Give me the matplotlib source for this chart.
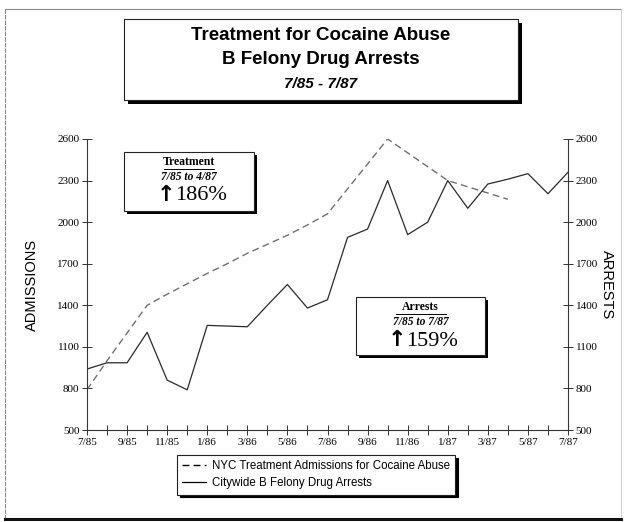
import numpy as np
import matplotlib
matplotlib.use('Agg')
import matplotlib.pyplot as plt
from matplotlib.patches import Rectangle

plt.rcParams.update({
    'font.family': ['Liberation Sans', 'DejaVu Sans'],
    'axes.linewidth': 0.8,
})

# data (monthly, 7/85 .. 7/87)
months = ['7/85', '8/85', '9/85', '10/85', '11/85', '12/85', '1/86', '2/86', '3/86',
          '4/86', '5/86', '6/86', '7/86', '8/86', '9/86', '10/86', '11/86', '12/86',
          '1/87', '2/87', '3/87', '4/87', '5/87', '6/87', '7/87']
admissions = [790, 1000, 1200, 1400, 1480, 1555, 1630, 1700, 1775, 1840, 1905,
              1980, 2060, 2240, 2420, 2600, 2500, 2400, 2300, 2255, 2210, 2165]
arrests = [940, 985, 985, 1205, 860, 790, 1255, 1250, 1245, 1400, 1550, 1380, 1440,
           1890, 1950, 2300, 1910, 2000, 2300, 2100, 2275, 2310, 2350, 2205, 2360]
y_ticks = [500, 800, 1100, 1400, 1700, 2000, 2300, 2600]

W, H = 624, 522
fig = plt.figure(figsize=(W / 100, H / 100), dpi=100)
fig.patch.set_facecolor('white')

ax = fig.add_axes([87 / W, (H - 430) / H, (568 - 87) / W, (430 - 139) / H])
x_adm = np.arange(len(admissions))
x_arr = np.arange(len(arrests))
ax.plot(x_adm, admissions, color='#707070', lw=1.0, dashes=(5, 3),
        label='NYC Treatment Admissions for Cocaine Abuse')
ax.plot(x_arr, arrests, color='#2a2a2a', lw=0.9,
        label='Citywide B Felony Drug Arrests')

ax.set_xlim(0, len(months) - 1)
ax.set_ylim(500, 2600)
ax.set_xticks(x_arr)
ax.set_xticklabels([m if i % 2 == 0 else '' for i, m in enumerate(months)])
ax.set_yticks(y_ticks)
ax.set_yticklabels([str(v) for v in y_ticks])
ax.tick_params(direction='inout', length=7, width=0.7, color='#333333', pad=2,
               labelsize=8)
ax.tick_params(axis='y', right=True, labelright=True)
ax.spines['top'].set_visible(False)
for s in ['left', 'right', 'bottom']:
    ax.spines[s].set_color('#333333')

serif = ['Liberation Serif', 'DejaVu Serif']
for t in ax.xaxis.get_major_ticks() + ax.yaxis.get_major_ticks():
    t.label1.set_family(serif)
    t.label2.set_family(serif)

ax.set_ylabel('ADMISSIONS', fontsize=10.5)
ax.yaxis.set_label_coords(-0.100, 0.5)
ax.text(1.081, 0.5, 'ARRESTS', transform=ax.transAxes, rotation=270,
        fontsize=10.5, ha='center', va='center')

leg = ax.legend(loc='upper left', bbox_to_anchor=(177 / W, 1 - 455 / H),
                bbox_transform=fig.transFigure, borderaxespad=0, fontsize=8.3,
                frameon=True, fancybox=False, handlelength=2.1, handletextpad=0.5,
                labelspacing=0.45, borderpad=0.45,
                shadow={'color': 'black', 'alpha': 1.0})
leg.get_frame().set_edgecolor('#222222')
leg.get_frame().set_linewidth(0.8)
for h in leg.get_lines():
    h.set_color('black')

# overlay in pixel coordinates for frame, title and note boxes
ov = fig.add_axes([0, 0, 1, 1], zorder=5)
ov.set_xlim(0, W)
ov.set_ylim(H, 0)
ov.axis('off')
ov.patch.set_alpha(0)

# outer frame
ov.plot([5, 621], [9, 9], color='#888888', lw=0.8)
ov.plot([5, 5], [9, 519], color='#888888', lw=0.8, dashes=(4, 1))
ov.plot([621, 621], [9, 519], color='#cccccc', lw=0.6)
ov.plot([5, 621], [519, 519], color='#111111', lw=2.2)


def shadow_box(x0, y0, x1, y1, off=3):
    ov.add_patch(Rectangle((x0 + off, y0 + off), x1 - x0, y1 - y0,
                           facecolor='black', edgecolor='none'))
    ov.add_patch(Rectangle((x0, y0), x1 - x0, y1 - y0,
                           facecolor='white', edgecolor='#222222', lw=0.8))


# title
shadow_box(124, 19, 518, 100, off=4)
ov.text(321, 35, 'Treatment for Cocaine Abuse', ha='center', va='center',
        fontsize=13.5, fontweight='bold')
ov.text(321, 60, 'B Felony Drug Arrests', ha='center', va='center',
        fontsize=13.5, fontweight='bold')
ov.text(321, 84, '7/85 - 7/87', ha='center', va='center',
        fontsize=11, fontweight='bold', style='italic')


def note_box(x0, y0, x1, y1, head, period, pct):
    shadow_box(x0, y0, x1, y1, off=3)
    cx = (x0 + x1) / 2
    ov.text(cx, y0 + 10, head, ha='center', va='center', fontsize=8.5,
            fontweight='bold', family=serif)
    ov.plot([cx - 25, cx + 25], [y0 + 16.5, y0 + 16.5], color='black', lw=0.7)
    ov.text(cx, y0 + 25, period, ha='center', va='center', fontsize=8.3,
            fontweight='bold', style='italic', family=serif)
    ov.text(cx - 23, y0 + 43, '\u2191', ha='center', va='center', fontsize=16,
            fontweight='bold', family=['DejaVu Sans'])
    ov.text(cx - 14, y0 + 44, pct, ha='left', va='center', fontsize=16,
            family=serif)


note_box(124, 152, 254, 211, 'Treatment', '7/85 to 4/87', '186%')
note_box(356, 297, 485, 355, 'Arrests', '7/85 to 7/87', '159%')

fig.savefig('out.png', dpi=100, facecolor='white')
